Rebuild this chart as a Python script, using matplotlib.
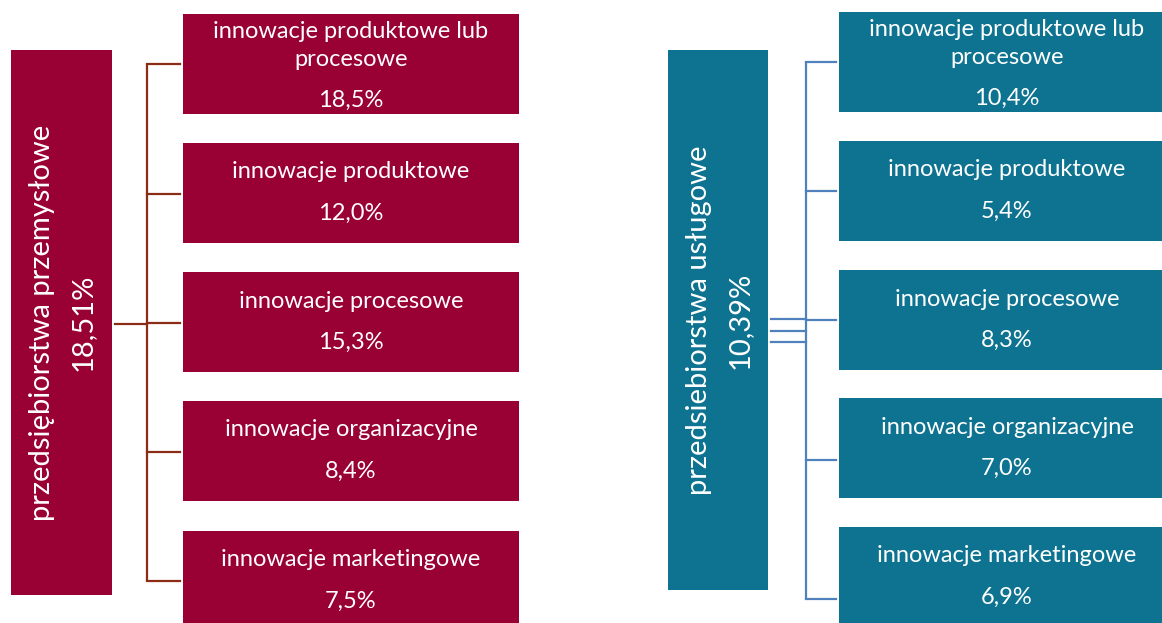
import matplotlib
matplotlib.use("Agg")
import matplotlib.pyplot as plt
from matplotlib.patches import Rectangle

plt.rcParams['font.family'] = ['Lato', 'DejaVu Sans']

# dane
kategorie = ["innowacje produktowe lub\nprocesowe", "innowacje produktowe",
             "innowacje procesowe", "innowacje organizacyjne",
             "innowacje marketingowe"]
przemysl_tytul = "przedsiębiorstwa przemysłowe"
przemysl_ogolem = "18,51%"
przemysl_wartosci = ["18,5%", "12,0%", "15,3%", "8,4%", "7,5%"]
uslugi_tytul = "przedsiebiorstwa usługowe"
uslugi_ogolem = "10,39%"
uslugi_wartosci = ["10,4%", "5,4%", "8,3%", "7,0%", "6,9%"]

W, H = 1162, 623
fig = plt.figure(figsize=(W / 100, H / 100), dpi=100)
ax = fig.add_axes([0, 0, 1, 1])
ax.set_xlim(0, W)
ax.set_ylim(H, 0)
ax.axis("off")


def panel(tops, stubs, parent_box, box_col, line_col, tytul, ogolem, wartosci, vline_x, child_x, parent_stubs):
    px, py, pw, ph = parent_box
    ax.add_patch(Rectangle((px, py), pw, ph, facecolor=box_col, edgecolor="none"))
    ax.text(px + pw / 2 + 1, py + ph / 2, tytul + "\n" + ogolem, rotation=90,
            ha="center", va="center", color="white", fontsize=21, linespacing=1.7)
    # linie łączące
    ax.plot([vline_x, vline_x], [stubs[0], stubs[-1]], color=line_col, lw=1.6,
            solid_capstyle="butt")
    for ys in parent_stubs:
        ax.plot([px + pw + 3, vline_x], [ys, ys], color=line_col, lw=1.6)
    for top, ys, kat, val in zip(tops, stubs, kategorie, wartosci):
        ax.plot([vline_x, child_x - 3], [ys, ys], color=line_col, lw=1.6)
        ax.add_patch(Rectangle((child_x, top), 336, 100, facecolor=box_col, edgecolor="none"))
        cx = child_x + 168
        kw = dict(ha="center", va="center", color="white", fontsize=17)
        if "\n" in kat:
            l1, l2 = kat.split("\n")
            ax.text(cx, top + 17, l1, **kw)
            ax.text(cx, top + 46, l2, **kw)
            ax.text(cx, top + 86, val, **kw)
        else:
            ax.text(cx, top + 29, kat, **kw)
            ax.text(cx, top + 70, val, **kw)


panel([14, 143, 272, 401, 531], [64, 194, 323, 452, 581], (11, 50, 101, 545),
      "#990033", "#8B2D14", przemysl_tytul, przemysl_ogolem, przemysl_wartosci,
      147, 183, [324])

panel([12, 141, 270, 398, 527], [62, 191, 320, 460, 599], (668, 50, 100, 540),
      "#0E7391", "#4F81BD", uslugi_tytul, uslugi_ogolem, uslugi_wartosci,
      806, 839, [319, 331, 342])

fig.savefig("out.png", dpi=100)
